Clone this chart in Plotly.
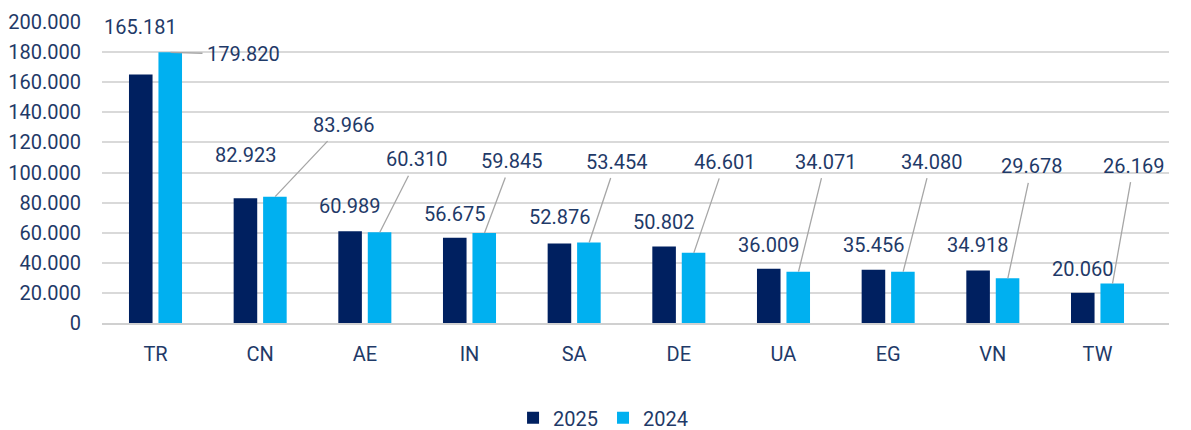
import plotly.graph_objects as go

# ---- data ----
categories = ["TR", "CN", "AE", "IN", "SA", "DE", "UA", "EG", "VN", "TW"]
values_2025 = [165181, 82923, 60989, 56675, 52876, 50802, 36009, 35456, 34918, 20060]
values_2024 = [179820, 83966, 60310, 59845, 53454, 46601, 34071, 34080, 29678, 26169]
labels_2025 = ["165.181", "82.923", "60.989", "56.675", "52.876", "50.802", "36.009", "35.456", "34.918", "20.060"]
labels_2024 = ["179.820", "83.966", "60.310", "59.845", "53.454", "46.601", "34.071", "34.080", "29.678", "26.169"]
tick_vals = [0, 20000, 40000, 60000, 80000, 100000, 120000, 140000, 160000, 180000, 200000]
tick_text = ["0", "20.000", "40.000", "60.000", "80.000", "100.000", "120.000", "140.000", "160.000", "180.000", "200.000"]

# ---- label placement (pixel offsets) ----
dark_label_lift = [47, 43, 25, 24, 26, 25, 24, 25, 25, 24]
light_label_dx = [73, 68, 37, 27, 27, 31, 27, 28, 24, 21]
light_label_dy = [2, -72, -73, -72, -81, -91, -110, -110, -112, -118]

NAVY = "#002060"
CYAN = "#00B0F0"
TEXT = "#1F3A68"
GRID = "#D9D9D9"
FONT = "Roboto, Arial, sans-serif"
FS = 20

fig = go.Figure()
fig.add_trace(go.Bar(name="2025", x=categories, y=values_2025, marker_color=NAVY))
fig.add_trace(go.Bar(name="2024", x=categories, y=values_2024, marker_color=CYAN))

annotations = []
for i, c in enumerate(categories):
    annotations.append(dict(
        x=c, y=values_2025[i], xref="x", yref="y", text=labels_2025[i],
        showarrow=False, xshift=-15, yshift=dark_label_lift[i],
        xanchor="center", yanchor="middle",
        font=dict(family=FONT, size=FS, color=TEXT)))
    annotations.append(dict(
        x=c, y=values_2024[i], xref="x", yref="y", text=labels_2024[i],
        showarrow=True, arrowhead=0, arrowwidth=1.3, arrowcolor="#A6A6A6",
        ax=light_label_dx[i], ay=light_label_dy[i], axref="pixel", ayref="pixel",
        xshift=15, borderpad=4,
        font=dict(family=FONT, size=FS, color=TEXT)))

# page body has an 8px default margin, so the figure is sized to fit the window
fig.update_layout(
    template="none",
    width=1183, height=422,
    margin=dict(l=94, r=22, t=14, b=107, autoexpand=False),
    paper_bgcolor="white", plot_bgcolor="white",
    barmode="group", bargap=0.437, bargroupgap=0.2,
    font=dict(family=FONT, size=FS, color=TEXT),
    showlegend=True,
    legend=dict(orientation="h", xref="container", yref="paper",
                x=0.503, xanchor="center", y=-0.315, yanchor="middle",
                font=dict(family=FONT, size=FS, color=TEXT), traceorder="normal",
                bgcolor="rgba(0,0,0,0)", borderwidth=0),
    annotations=annotations,
)
fig.update_xaxes(automargin=False, showgrid=False, showline=True, linecolor="#D0D0D0", linewidth=2,
                 ticks="", ticklabelstandoff=12, tickfont=dict(family=FONT, size=FS, color=TEXT))
fig.update_yaxes(automargin=False, range=[0, 200000], tickvals=tick_vals, ticktext=tick_text,
                 showgrid=True, gridcolor=GRID, gridwidth=1.5, zeroline=False,
                 showline=False, ticks="", ticklabelstandoff=20,
                 tickfont=dict(family=FONT, size=FS, color=TEXT))

fig.write_html("out.html")
